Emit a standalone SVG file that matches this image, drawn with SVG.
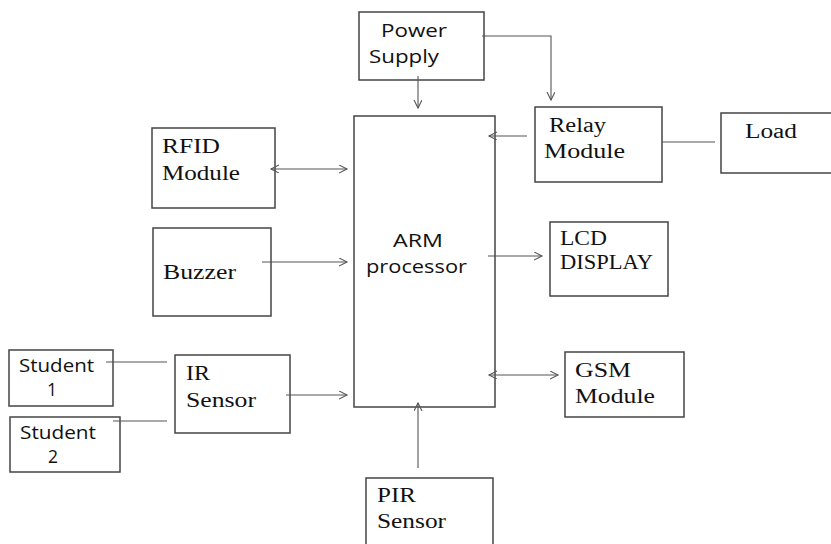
<svg xmlns="http://www.w3.org/2000/svg" width="831" height="544" viewBox="0 0 831 544">
<defs>
<style>
.box{fill:none;stroke:#444;stroke-width:1.5}
.ser{font-family:"Liberation Serif","Times New Roman",serif;font-size:20px;fill:#111}
.san{font-family:"Open Sans","Liberation Sans",sans-serif;font-size:17.5px;fill:#111}
.con{fill:none;stroke:#555;stroke-width:1.1}
</style>
<marker id="ah" markerUnits="userSpaceOnUse" markerWidth="10" markerHeight="10" refX="8" refY="4" orient="auto-start-reverse">
<path d="M0,0 L8,4 L0,8" fill="none" stroke="#555" stroke-width="1.1"/>
</marker>
</defs>
<rect width="831" height="544" fill="#fff"/>
<g id="power">
<rect class="box" x="359" y="12" width="125" height="68"/>
<text class="san" x="381" y="37" textLength="66" lengthAdjust="spacingAndGlyphs">Power</text>
<text class="san" x="369" y="63" textLength="70" lengthAdjust="spacingAndGlyphs">Supply</text>
</g>
<g id="arm">
<rect class="box" x="354" y="116" width="141" height="291"/>
<text class="san" x="393" y="247" textLength="50" lengthAdjust="spacingAndGlyphs">ARM</text>
<text class="san" x="366" y="273" textLength="101" lengthAdjust="spacingAndGlyphs">processor</text>
</g>
<g id="relay">
<rect class="box" x="535" y="107" width="127" height="75"/>
<text class="ser" x="549" y="132" textLength="57" lengthAdjust="spacingAndGlyphs">Relay</text>
<text class="ser" x="544" y="158" textLength="81" lengthAdjust="spacingAndGlyphs">Module</text>
</g>
<g id="load">
<rect class="box" x="721" y="113" width="130" height="60"/>
<text class="ser" x="745" y="138" textLength="52" lengthAdjust="spacingAndGlyphs">Load</text>
</g>
<g id="rfid">
<rect class="box" x="152" y="128" width="123" height="80"/>
<text class="ser" x="162" y="153" textLength="58" lengthAdjust="spacingAndGlyphs">RFID</text>
<text class="ser" x="162" y="180" textLength="78" lengthAdjust="spacingAndGlyphs">Module</text>
</g>
<g id="buzzer">
<rect class="box" x="153" y="228" width="118" height="88"/>
<text class="ser" x="163" y="279" textLength="73" lengthAdjust="spacingAndGlyphs">Buzzer</text>
</g>
<g id="student1">
<rect class="box" x="9" y="350" width="104" height="56"/>
<text class="san" x="19" y="372" textLength="75" lengthAdjust="spacingAndGlyphs">Student</text>
<text class="san" x="47" y="396">1</text>
</g>
<g id="student2">
<rect class="box" x="10" y="417" width="110" height="55"/>
<text class="san" x="20" y="439" textLength="76" lengthAdjust="spacingAndGlyphs">Student</text>
<text class="san" x="48" y="463">2</text>
</g>
<g id="ir">
<rect class="box" x="175" y="355" width="115" height="78"/>
<text class="ser" x="186" y="380" textLength="24" lengthAdjust="spacingAndGlyphs">IR</text>
<text class="ser" x="186" y="407" textLength="70" lengthAdjust="spacingAndGlyphs">Sensor</text>
</g>
<g id="lcd">
<rect class="box" x="550" y="222" width="118" height="74"/>
<text class="ser" x="560" y="245" textLength="47" lengthAdjust="spacingAndGlyphs">LCD</text>
<text class="ser" x="560" y="269" textLength="93" lengthAdjust="spacingAndGlyphs">DISPLAY</text>
</g>
<g id="gsm">
<rect class="box" x="565" y="352" width="119" height="65"/>
<text class="ser" x="575" y="377" textLength="56" lengthAdjust="spacingAndGlyphs">GSM</text>
<text class="ser" x="575" y="403" textLength="80" lengthAdjust="spacingAndGlyphs">Module</text>
</g>
<g id="pir">
<rect class="box" x="366" y="478" width="127" height="80"/>
<text class="ser" x="377" y="502" textLength="39" lengthAdjust="spacingAndGlyphs">PIR</text>
<text class="ser" x="377" y="528" textLength="69" lengthAdjust="spacingAndGlyphs">Sensor</text>
</g>
<g id="connectors">
<path class="con" d="M418,76 V108" marker-end="url(#ah)"/>
<path class="con" d="M482,36 H551 V100" marker-end="url(#ah)"/>
<path class="con" d="M527,136 H489" marker-end="url(#ah)"/>
<path class="con" d="M662,142 H715"/>
<path class="con" d="M271,169 H347" marker-start="url(#ah)" marker-end="url(#ah)"/>
<path class="con" d="M262,262 H347" marker-end="url(#ah)"/>
<path class="con" d="M106,362 H167"/>
<path class="con" d="M113,421 H167"/>
<path class="con" d="M286,395 H347" marker-end="url(#ah)"/>
<path class="con" d="M488,256 H542" marker-end="url(#ah)"/>
<path class="con" d="M489,375 H558" marker-start="url(#ah)" marker-end="url(#ah)"/>
<path class="con" d="M418,468 V403" marker-end="url(#ah)"/>
</g>
</svg>
